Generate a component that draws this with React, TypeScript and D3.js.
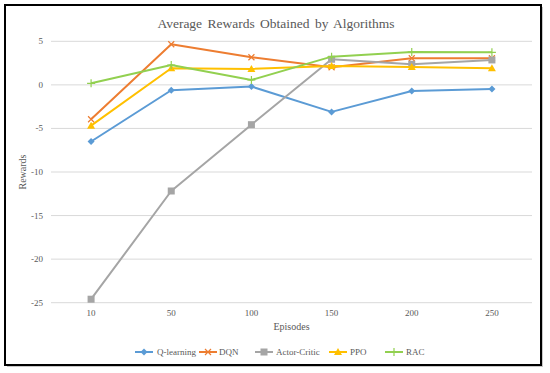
import React from "react";
import * as d3 from "d3";

const categories = ["10", "50", "100", "150", "200", "250"];
const qLearning = [-6.5, -0.62, -0.2, -3.1, -0.7, -0.47];
const dqn = [-3.95, 4.66, 3.17, 2.02, 3.05, 3.05];
const actorCritic = [-24.6, -12.18, -4.57, 2.94, 2.36, 2.86];
const ppo = [-4.68, 1.9, 1.83, 2.17, 2.05, 1.9];
const rac = [0.18, 2.28, 0.56, 3.24, 3.78, 3.74];
const yTicks = [5, 0, -5, -10, -15, -20, -25];

const series = [
  { name: "Q-learning", values: qLearning, color: "#5B9BD5", marker: "diamond" },
  { name: "DQN", values: dqn, color: "#ED7D31", marker: "x" },
  { name: "Actor-Critic", values: actorCritic, color: "#A5A5A5", marker: "square" },
  { name: "PPO", values: ppo, color: "#FFC000", marker: "triangle" },
  { name: "RAC", values: rac, color: "#92D050", marker: "plus" },
];

const W = 550, H = 373;
const left = 51, right = 532, top = 41.3, bottom = 302.7;
const font = "Liberation Serif, Times New Roman, serif";
const textColor = "#595959";

function Marker({ type, x, y, color }: { type: string; x: number; y: number; color: string }) {
  const s = 3;
  switch (type) {
    case "diamond":
      return <path d={`M${x},${y - 3.5}L${x + 3.5},${y}L${x},${y + 3.5}L${x - 3.5},${y}Z`} fill={color} />;
    case "x":
      return <path d={`M${x - s},${y - s}L${x + s},${y + s}M${x - s},${y + s}L${x + s},${y - s}`} stroke={color} strokeWidth={1.2} fill="none" />;
    case "square":
      return <rect x={x - 3.5} y={y - 3.5} width={7} height={7} fill={color} />;
    case "triangle":
      return <path d={`M${x},${y - 4}L${x + 4},${y + 3}L${x - 4},${y + 3}Z`} fill={color} />;
    case "plus":
      return <path d={`M${x - 4},${y}L${x + 4},${y}M${x},${y - 4}L${x},${y + 4}`} stroke={color} strokeWidth={1.2} fill="none" />;
  }
  return null;
}

export default function App() {
  const x = d3.scaleBand<string>().domain(categories).range([left, right]);
  const cx = (c: string) => (x(c) as number) + x.bandwidth() / 2;
  const y = d3.scaleLinear().domain([-25, 5]).range([bottom, top]);
  const line = d3.line<number>().x((_, i) => cx(categories[i])).y((v) => y(v));

  const legendItems = [
    { lx: 135, tx: 157 },
    { lx: 199, tx: 219 },
    { lx: 255, tx: 276 },
    { lx: 329, tx: 350 },
    { lx: 385, tx: 406 },
  ];
  const ts = { fontFamily: font, fill: textColor } as React.CSSProperties;

  return (
    <svg width={W} height={H} style={{ position: "absolute", left: 0, top: 0 }}>
      <rect x={0} y={0} width={W} height={H} fill="#fff" />
      <rect x={7} y={7} width={536} height={360} fill="#c8c8c8" />
      <rect x={5} y={5} width={536} height={360} fill="#fff" stroke="#000" strokeWidth={2} />
      <text x={276} y={28} textAnchor="middle" style={{ ...ts, fontSize: 13.5, wordSpacing: 2 }}>
        Average Rewards Obtained by Algorithms
      </text>
      {yTicks.map((t) => (
        <g key={t}>
          <line x1={left} x2={right} y1={y(t)} y2={y(t)} stroke="#d9d9d9" strokeWidth={1} />
          <text x={43} y={y(t) + 3} textAnchor="end" style={{ ...ts, fontSize: 9 }}>
            {t}
          </text>
        </g>
      ))}
      {categories.map((c) => (
        <text key={c} x={cx(c)} y={316} textAnchor="middle" style={{ ...ts, fontSize: 9 }}>
          {c}
        </text>
      ))}
      <text x={(left + right) / 2} y={330} textAnchor="middle" style={{ ...ts, fontSize: 10 }}>
        Episodes
      </text>
      <text transform={`translate(26,${(top + bottom) / 2}) rotate(-90)`} textAnchor="middle" style={{ ...ts, fontSize: 10 }}>
        Rewards
      </text>
      {series.map((s) => (
        <g key={s.name}>
          <path d={line(s.values) as string} fill="none" stroke={s.color} strokeWidth={2} strokeLinejoin="round" />
          {s.values.map((v, i) => (
            <Marker key={i} type={s.marker} x={cx(categories[i])} y={y(v)} color={s.color} />
          ))}
        </g>
      ))}
      {series.map((s, i) => {
        const it = legendItems[i];
        const ly = 352;
        return (
          <g key={s.name}>
            <line x1={it.lx} x2={it.lx + 18} y1={ly} y2={ly} stroke={s.color} strokeWidth={2} />
            <Marker type={s.marker} x={it.lx + 9} y={ly} color={s.color} />
            <text x={it.tx} y={ly + 3} style={{ ...ts, fontSize: 9 }}>
              {s.name}
            </text>
          </g>
        );
      })}
    </svg>
  );
}
